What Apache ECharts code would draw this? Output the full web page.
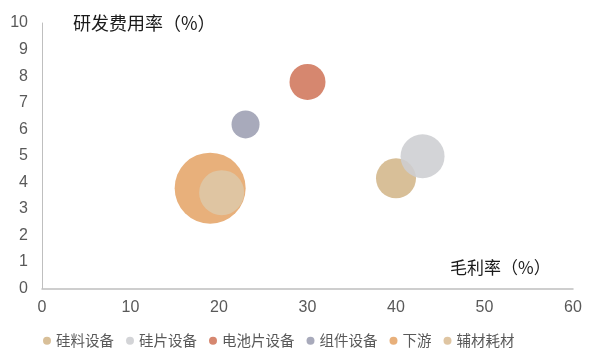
<!DOCTYPE html>
<html>
<head>
<meta charset="utf-8">
<script src="https://cdn.jsdelivr.net/npm/echarts@6/dist/echarts.min.js"></script>
<style>html,body{margin:0;padding:0;background:#fff}#c{width:605px;height:358px}</style>
</head>
<body>
<div id="c"></div>
<script>
const categories = ['硅料设备', '硅片设备', '电池片设备', '组件设备', '下游', '辅材耗材'];
const grossMargin = [40.0, 43.0, 30.0, 23.0, 19.0, 20.3];
const rdRate = [4.15, 4.98, 7.78, 6.18, 3.78, 3.61];
const bubbleSize = [40, 44, 36, 28, 71, 45];
const colors = ['#D8BF98', '#CDCED1', '#D6876F', '#A8AABB', '#E8B07B', '#DFC5A2'];
const xTicks = [0, 10, 20, 30, 40, 50, 60];
const yTicks = [0, 1, 2, 3, 4, 5, 6, 7, 8, 9, 10];

const chart = echarts.init(document.getElementById('c'), null, {renderer: 'canvas'});
const series = categories.map((name, i) => ({
  name: name,
  type: 'scatter',
  data: [[grossMargin[i], rdRate[i], bubbleSize[i]]],
  symbolSize: v => v[2],
  itemStyle: {color: colors[i], opacity: i === 1 ? 0.88 : 1},
  emphasis: {disabled: true}
}));
chart.setOption({
  animation: false,
  backgroundColor: '#fff',
  grid: {left: 42, right: 32, top: 23, bottom: 69.5, containLabel: false},
  xAxis: {
    type: 'value', min: xTicks[0], max: xTicks[xTicks.length - 1], interval: 10,
    axisLine: {show: true, lineStyle: {color: '#BFBFBF', width: 1.5}},
    axisTick: {show: false}, splitLine: {show: false},
    axisLabel: {color: '#595959', fontSize: 16, fontFamily: 'Liberation Sans, Arial', margin: 11}
  },
  yAxis: {
    type: 'value', min: yTicks[0], max: yTicks[yTicks.length - 1], interval: 1,
    axisLine: {show: true, lineStyle: {color: '#BFBFBF', width: 1}},
    axisTick: {show: false}, splitLine: {show: false},
    axisLabel: {color: '#595959', fontSize: 16, fontFamily: 'Liberation Sans, Arial', margin: 14}
  },
  legend: {
    data: categories, bottom: 5, left: 38, icon: 'circle', itemWidth: 8, itemHeight: 8, itemGap: 12,
    textStyle: {color: '#595959', fontSize: 14.5, fontFamily: 'Noto Sans CJK SC'}
  },
  graphic: [
    {type: 'text', left: 73, top: 14, style: {text: '研发费用率（%）', fill: '#1a1a1a', fontSize: 18, fontFamily: 'Noto Sans CJK SC'}},
    {type: 'text', left: 450, top: 259, style: {text: '毛利率（%）', fill: '#1a1a1a', fontSize: 17, fontFamily: 'Noto Sans CJK SC'}}
  ],
  series: series
});
</script>
</body>
</html>
